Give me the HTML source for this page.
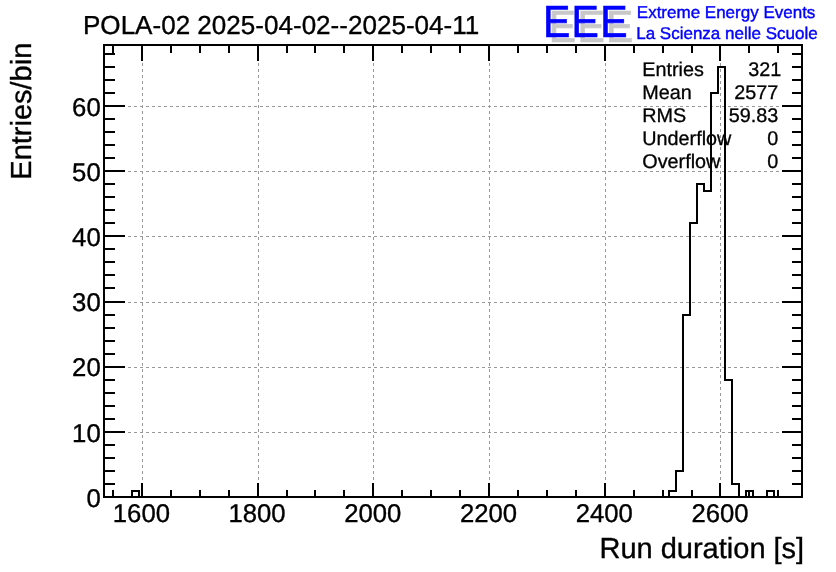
<!DOCTYPE html>
<html lang="en"><head><meta charset="utf-8"><title>POLA-02 run duration</title>
<style>html,body{margin:0;padding:0;background:#fff;}body{width:836px;height:572px;overflow:hidden;}svg{display:block;will-change:transform;}text{text-rendering:geometricPrecision;}text{font-family:"Liberation Sans",Arial,Helvetica,sans-serif;fill:#000;}.lab{font-size:25.7px;stroke:#000;stroke-width:0.35px;}.tt{font-size:26.05px;stroke:#000;stroke-width:0.35px;}.ttl{font-size:29px;stroke:#000;stroke-width:0.35px;}.st{font-size:19.8px;stroke:#000;stroke-width:0.3px;}.lg{font-size:17px;fill:#0000ff;stroke:#0000ff;stroke-width:0.4px;}</style></head><body>
<svg width="836" height="572" viewBox="0 0 836 572">
<rect x="0" y="0" width="836" height="572" fill="#ffffff"/>
<g shape-rendering="crispEdges" fill="#999999">
</g>
<g shape-rendering="crispEdges" stroke="#999999" stroke-width="1" stroke-dasharray="3 3" fill="none">
<line x1="104" y1="432.5" x2="802" y2="432.5"/>
<line x1="104" y1="367.5" x2="802" y2="367.5"/>
<line x1="104" y1="302.5" x2="802" y2="302.5"/>
<line x1="104" y1="236.5" x2="802" y2="236.5"/>
<line x1="104" y1="171.5" x2="802" y2="171.5"/>
<line x1="104" y1="106.5" x2="802" y2="106.5"/>
<line x1="142.5" y1="498" x2="142.5" y2="45"/>
<line x1="258.5" y1="498" x2="258.5" y2="45"/>
<line x1="373.5" y1="498" x2="373.5" y2="45"/>
<line x1="489.5" y1="498" x2="489.5" y2="45"/>
<line x1="605.5" y1="498" x2="605.5" y2="45"/>
<line x1="720.5" y1="498" x2="720.5" y2="45"/>
</g>
<g shape-rendering="crispEdges" fill="#000000">
<rect x="103" y="44" width="700" height="2"/>
<rect x="103" y="496" width="700" height="2"/>
<rect x="103" y="44" width="2" height="454"/>
<rect x="801" y="44" width="2" height="454"/>
<rect x="112" y="490" width="2" height="7"/>
<rect x="112" y="45" width="2" height="8"/>
<rect x="141" y="483" width="2" height="14"/>
<rect x="141" y="45" width="2" height="16"/>
<rect x="170" y="490" width="2" height="7"/>
<rect x="170" y="45" width="2" height="8"/>
<rect x="199" y="490" width="2" height="7"/>
<rect x="199" y="45" width="2" height="8"/>
<rect x="228" y="490" width="2" height="7"/>
<rect x="228" y="45" width="2" height="8"/>
<rect x="257" y="483" width="2" height="14"/>
<rect x="257" y="45" width="2" height="16"/>
<rect x="286" y="490" width="2" height="7"/>
<rect x="286" y="45" width="2" height="8"/>
<rect x="314" y="490" width="2" height="7"/>
<rect x="314" y="45" width="2" height="8"/>
<rect x="343" y="490" width="2" height="7"/>
<rect x="343" y="45" width="2" height="8"/>
<rect x="372" y="483" width="2" height="14"/>
<rect x="372" y="45" width="2" height="16"/>
<rect x="401" y="490" width="2" height="7"/>
<rect x="401" y="45" width="2" height="8"/>
<rect x="430" y="490" width="2" height="7"/>
<rect x="430" y="45" width="2" height="8"/>
<rect x="459" y="490" width="2" height="7"/>
<rect x="459" y="45" width="2" height="8"/>
<rect x="488" y="483" width="2" height="14"/>
<rect x="488" y="45" width="2" height="16"/>
<rect x="517" y="490" width="2" height="7"/>
<rect x="517" y="45" width="2" height="8"/>
<rect x="546" y="490" width="2" height="7"/>
<rect x="546" y="45" width="2" height="8"/>
<rect x="575" y="490" width="2" height="7"/>
<rect x="575" y="45" width="2" height="8"/>
<rect x="604" y="483" width="2" height="14"/>
<rect x="604" y="45" width="2" height="16"/>
<rect x="633" y="490" width="2" height="7"/>
<rect x="633" y="45" width="2" height="8"/>
<rect x="662" y="490" width="2" height="7"/>
<rect x="662" y="45" width="2" height="8"/>
<rect x="691" y="490" width="2" height="7"/>
<rect x="691" y="45" width="2" height="8"/>
<rect x="719" y="483" width="2" height="14"/>
<rect x="719" y="45" width="2" height="16"/>
<rect x="748" y="490" width="2" height="7"/>
<rect x="748" y="45" width="2" height="8"/>
<rect x="777" y="490" width="2" height="7"/>
<rect x="777" y="45" width="2" height="8"/>
<rect x="104" y="496" width="21" height="2"/>
<rect x="782" y="496" width="20" height="2"/>
<rect x="104" y="483" width="11" height="2"/>
<rect x="792" y="483" width="10" height="2"/>
<rect x="104" y="470" width="11" height="2"/>
<rect x="792" y="470" width="10" height="2"/>
<rect x="104" y="457" width="11" height="2"/>
<rect x="792" y="457" width="10" height="2"/>
<rect x="104" y="444" width="11" height="2"/>
<rect x="792" y="444" width="10" height="2"/>
<rect x="104" y="431" width="21" height="2"/>
<rect x="782" y="431" width="20" height="2"/>
<rect x="104" y="418" width="11" height="2"/>
<rect x="792" y="418" width="10" height="2"/>
<rect x="104" y="405" width="11" height="2"/>
<rect x="792" y="405" width="10" height="2"/>
<rect x="104" y="392" width="11" height="2"/>
<rect x="792" y="392" width="10" height="2"/>
<rect x="104" y="379" width="11" height="2"/>
<rect x="792" y="379" width="10" height="2"/>
<rect x="104" y="366" width="21" height="2"/>
<rect x="782" y="366" width="20" height="2"/>
<rect x="104" y="353" width="11" height="2"/>
<rect x="792" y="353" width="10" height="2"/>
<rect x="104" y="340" width="11" height="2"/>
<rect x="792" y="340" width="10" height="2"/>
<rect x="104" y="327" width="11" height="2"/>
<rect x="792" y="327" width="10" height="2"/>
<rect x="104" y="314" width="11" height="2"/>
<rect x="792" y="314" width="10" height="2"/>
<rect x="104" y="301" width="21" height="2"/>
<rect x="782" y="301" width="20" height="2"/>
<rect x="104" y="287" width="11" height="2"/>
<rect x="792" y="287" width="10" height="2"/>
<rect x="104" y="274" width="11" height="2"/>
<rect x="792" y="274" width="10" height="2"/>
<rect x="104" y="261" width="11" height="2"/>
<rect x="792" y="261" width="10" height="2"/>
<rect x="104" y="248" width="11" height="2"/>
<rect x="792" y="248" width="10" height="2"/>
<rect x="104" y="235" width="21" height="2"/>
<rect x="782" y="235" width="20" height="2"/>
<rect x="104" y="222" width="11" height="2"/>
<rect x="792" y="222" width="10" height="2"/>
<rect x="104" y="209" width="11" height="2"/>
<rect x="792" y="209" width="10" height="2"/>
<rect x="104" y="196" width="11" height="2"/>
<rect x="792" y="196" width="10" height="2"/>
<rect x="104" y="183" width="11" height="2"/>
<rect x="792" y="183" width="10" height="2"/>
<rect x="104" y="170" width="21" height="2"/>
<rect x="782" y="170" width="20" height="2"/>
<rect x="104" y="157" width="11" height="2"/>
<rect x="792" y="157" width="10" height="2"/>
<rect x="104" y="144" width="11" height="2"/>
<rect x="792" y="144" width="10" height="2"/>
<rect x="104" y="131" width="11" height="2"/>
<rect x="792" y="131" width="10" height="2"/>
<rect x="104" y="118" width="11" height="2"/>
<rect x="792" y="118" width="10" height="2"/>
<rect x="104" y="105" width="21" height="2"/>
<rect x="782" y="105" width="20" height="2"/>
<rect x="104" y="92" width="11" height="2"/>
<rect x="792" y="92" width="10" height="2"/>
<rect x="104" y="79" width="11" height="2"/>
<rect x="792" y="79" width="10" height="2"/>
<rect x="104" y="66" width="11" height="2"/>
<rect x="792" y="66" width="10" height="2"/>
<rect x="104" y="53" width="11" height="2"/>
<rect x="792" y="53" width="10" height="2"/>
</g>
<path d="M104 497 L132 497 L132 491 L139 491 L139 497 L669 497 L669 491 L676 491 L676 471 L683 471 L683 315 L690 315 L690 223 L697 223 L697 184 L704 184 L704 191 L711 191 L711 93 L718 93 L718 67 L725 67 L725 380 L732 380 L732 484 L739 484 L739 497 L746 497 L746 491 L753 491 L753 497 L767 497 L767 491 L774 491 L774 497 L802 497" fill="none" stroke="#000" stroke-width="2" stroke-linejoin="miter" stroke-linecap="square" shape-rendering="crispEdges"/>
<text class="lab" x="141.4" y="521.7" text-anchor="middle">1600</text>
<text class="lab" x="257.1" y="521.7" text-anchor="middle">1800</text>
<text class="lab" x="372.8" y="521.7" text-anchor="middle">2000</text>
<text class="lab" x="488.5" y="521.7" text-anchor="middle">2200</text>
<text class="lab" x="604.3" y="521.7" text-anchor="middle">2400</text>
<text class="lab" x="720.0" y="521.7" text-anchor="middle">2600</text>
<text class="lab" x="100.7" y="506.89" text-anchor="end">0</text>
<text class="lab" x="100.7" y="441.68" text-anchor="end">10</text>
<text class="lab" x="100.7" y="376.48" text-anchor="end">20</text>
<text class="lab" x="100.7" y="311.27" text-anchor="end">30</text>
<text class="lab" x="100.7" y="246.06" text-anchor="end">40</text>
<text class="lab" x="100.7" y="180.86" text-anchor="end">50</text>
<text class="lab" x="100.7" y="115.65" text-anchor="end">60</text>
<text class="tt" x="83" y="33.5">POLA-02 2025-04-02--2025-04-11</text>
<text class="ttl" x="804.2" y="558.3" text-anchor="end">Run duration [s]</text>
<text class="ttl" transform="translate(30.6 42.7) rotate(-90)" text-anchor="end">Entries/bin</text>
<text class="st" x="642.3" y="75.8">Entries</text>
<text class="st" x="781.2" y="75.8" text-anchor="end">321</text>
<text class="st" x="642.3" y="98.8">Mean</text>
<text class="st" x="778.3" y="98.8" text-anchor="end">2577</text>
<text class="st" x="642.3" y="121.8">RMS</text>
<text class="st" x="778.3" y="121.8" text-anchor="end">59.83</text>
<text class="st" x="642.3" y="144.8">Underflow</text>
<text class="st" x="778.3" y="144.8" text-anchor="end">0</text>
<text class="st" x="642.3" y="167.8">Overflow</text>
<text class="st" x="778.3" y="167.8" text-anchor="end">0</text>
<text transform="translate(548.85 41.5) scale(1 1.097)" style="font-size:41px;letter-spacing:1.25px;fill:#c8c8c8;stroke:#c8c8c8;stroke-width:0.6px">EEE</text>
<text transform="translate(542.95 36.5) scale(1 1.097)" style="font-size:41px;letter-spacing:1.25px;fill:#0000ff;stroke:#0000ff;stroke-width:0.6px">EEE</text>
<text class="lg" x="636.8" y="17.7">Extreme Energy Events</text>
<text class="lg" x="636.2" y="38.9">La Scienza nelle Scuole</text>
</svg></body></html>
